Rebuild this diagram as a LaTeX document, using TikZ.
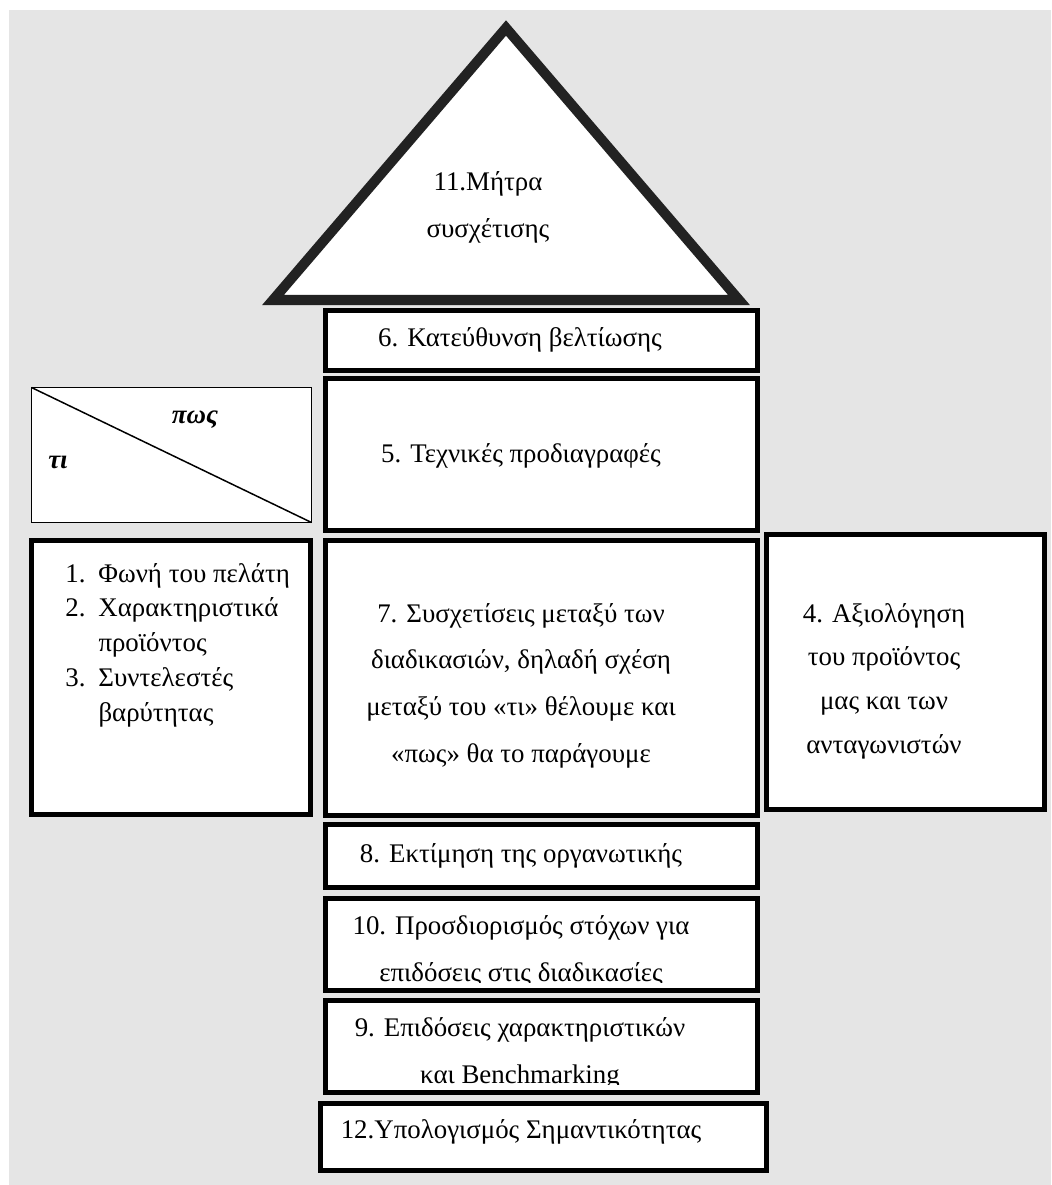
\documentclass[tikz,border=0pt]{standalone}
\usepackage{fontspec}
\setmainfont{Liberation Serif}
\usetikzlibrary{positioning}
\definecolor{housegray}{HTML}{E5E5E5}
\definecolor{roofline}{HTML}{222222}

\begin{document}
\begin{tikzpicture}[x=0.02cm,y=-0.02cm,
    font=\fontsize{15.3}{26.5}\selectfont,
    block/.style={draw,line width=2.8pt,fill=white,inner sep=0pt,outer sep=0pt,
      minimum width=8.64cm},
    sidebox/.style={draw,line width=2.8pt,fill=white,inner sep=0pt,outer sep=0pt,
      minimum height=5.5cm},
    words/.style={anchor=base,align=center,inner sep=0pt},
  ]
    \useasboundingbox (0,0) rectangle (1051,1185);
    \fill[housegray] (9,10) rectangle (1051,1185);

    % roof
    \coordinate (apex) at (506,28);
    \coordinate (eaveL) at (273,300);
    \coordinate (eaveR) at (739,300);
    \draw[roofline,line width=5.7pt,fill=white,miter limit=10]
      (apex) -- (eaveR) -- (eaveL) -- cycle;
    \node[words,font=\fontsize{15.3}{27.2}\selectfont] (roof) at (488,238)
      {11.Μήτρα\\συσχέτισης};

    % middle column
    \node[block,minimum height=1.2cm] (direction) at (541.5,340.5) {};
    \node[words] (directiontext) at (520,347) {6. Κατεύθυνση βελτίωσης};
    \node[block,minimum height=3.04cm] (specs) at (541.5,454.5) {};
    \node[words] (specstext) at (521,462) {5. Τεχνικές προδιαγραφές};
    \node[block,minimum height=5.5cm] (relations) at (541.5,678) {};
    \node[words] (relationstext) at (521,762)
      {7. Συσχετίσεις μεταξύ των\\διαδικασιών, δηλαδή σχέση\\
       μεταξύ του «τι» θέλουμε και\\«πως» θα το παράγουμε};
    \node[block,minimum height=1.26cm] (estimate) at (541.5,856) {};
    \node[words] (estimatetext) at (521,862) {8. Εκτίμηση της οργανωτικής};
    \node[block,minimum height=1.84cm] (targets) at (541.5,944.5) {};
    \coordinate (targetscut) at (760,982);
    \begin{scope}
      \clip (targets.north west) rectangle (targetscut);
      \node[words] (targetstext) at (521,981.5)
        {10. Προσδιορισμός στόχων για\\επιδόσεις στις διαδικασίες};
    \end{scope}
    \node[block,minimum height=1.84cm] (bench) at (541.5,1046.5) {};
    \coordinate (benchcut) at (760,1084);
    \begin{scope}
      \clip (bench.north west) rectangle (benchcut);
      \node[words] (benchtext) at (520,1083.5)
        {9. Επιδόσεις χαρακτηριστικών\\και Benchmarking};
    \end{scope}
    \node[block,minimum width=8.92cm,minimum height=1.34cm] (weight) at (543.5,1137) {};
    \node[words] (weighttext) at (521,1138) {12.Υπολογισμός Σημαντικότητας};

    % what / how corner
    \node[draw,line width=0.85pt,fill=white,inner sep=0pt,outer sep=0pt,
      minimum width=5.6cm,minimum height=2.7cm] (whathow) at (171.5,455) {};
    \draw[line width=0.85pt] (whathow.north west) -- (whathow.south east);
    \node[words,font=\fontsize{15.3}{17}\selectfont\bfseries\itshape] (how) at (195,423) {πως};
    \node[words,font=\fontsize{15.3}{17}\selectfont\bfseries\itshape] (what) at (58,468) {τι};

    % side walls
    \node[sidebox,minimum width=5.58cm,minimum height=5.48cm] (customer) at (171,677.5) {};
    \node[anchor=base west,inner sep=0pt,font=\fontsize{15.3}{19.9}\selectfont]
      (customertext) at (65,582)
      {\begin{tabular}[t]{@{}l@{\hspace{0.26cm}}l@{}}
        1. & Φωνή του πελάτη\\
        2. & Χαρακτηριστικά\\
           & προϊόντος\\
        3. & Συντελεστές\\
           & βαρύτητας
      \end{tabular}};
    \node[sidebox,minimum width=5.56cm] (rivals) at (905.5,672) {};
    \node[words,font=\fontsize{15.3}{24.8}\selectfont] (rivalstext) at (884,753)
      {4. Αξιολόγηση\\του προϊόντος\\μας και των\\ανταγωνιστών};
  \end{tikzpicture}
\end{document}
